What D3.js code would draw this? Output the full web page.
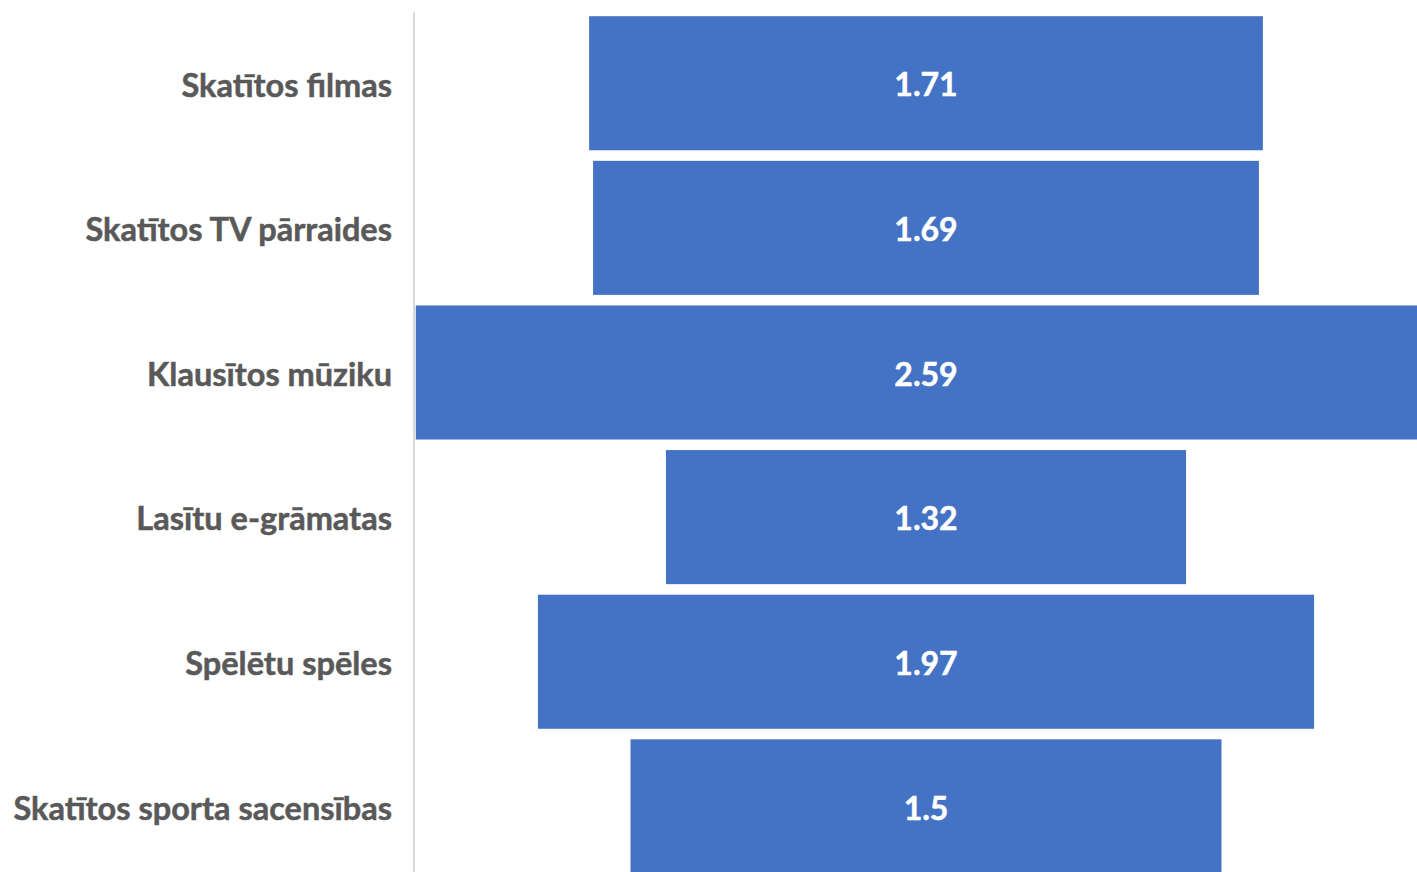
<!DOCTYPE html>
<html>
<head>
<meta charset="utf-8">
<script src="https://cdn.jsdelivr.net/npm/d3@7"></script>
<style>
  body { margin: 0; background: #fff; }
  svg { display: block; }
</style>
</head>
<body>
<div id="container"></div>
<script>
/* DATA */
const categories = [
  "Skatītos filmas",
  "Skatītos TV pārraides",
  "Klausītos mūziku",
  "Lasītu e-grāmatas",
  "Spēlētu spēles",
  "Skatītos sporta sacensības"
];
const values = [1.71, 1.69, 2.59, 1.32, 1.97, 1.5];

/* CONSTANTS */
const width = 1417,
  height = 872,
  axisX = 414,
  centerX = 926,
  pxPerUnit = 394;

const data = categories.map((c, i) => ({ cat: c, val: values[i] }));

/* SCALES */
const xScale = d3.scaleLinear()
  .domain([-1, 1])
  .range([centerX - pxPerUnit, centerX + pxPerUnit]);

const yScale = d3.scaleBand()
  .domain(categories)
  .range([11, 11 + 6 * 144.6])
  .paddingInner(0.073)
  .paddingOuter(0.036);

const svg = d3.select("#container")
  .append("svg")
  .attr("width", width)
  .attr("height", height);

// bars, centred like a funnel
svg.selectAll("rect.bar")
  .data(data)
  .join("rect")
  .attr("class", "bar")
  .attr("x", d => Math.max(xScale(-d.val / 2), axisX + 1))
  .attr("y", d => yScale(d.cat))
  .attr("width", d => xScale(d.val / 2) - Math.max(xScale(-d.val / 2), axisX + 1))
  .attr("height", yScale.bandwidth())
  .attr("fill", "#4472C4");

// vertical axis line
svg.append("line")
  .attr("x1", axisX).attr("x2", axisX)
  .attr("y1", 12).attr("y2", height)
  .attr("stroke", "#d9d9d9")
  .attr("stroke-width", 2);

// category labels
svg.selectAll("text.cat")
  .data(data)
  .join("text")
  .attr("class", "cat")
  .attr("x", 392)
  .attr("y", d => yScale(d.cat) + yScale.bandwidth() / 2 + 2)
  .attr("dy", "0.35em")
  .attr("text-anchor", "end")
  .attr("font-family", "Lato, 'Open Sans', sans-serif")
  .attr("font-weight", "bold")
  .attr("font-size", 32.5)
  .attr("fill", "#595959")
  .attr("stroke", "#595959")
  .attr("stroke-width", 0.5)
  .text(d => d.cat);

// value labels
svg.selectAll("text.val")
  .data(data)
  .join("text")
  .attr("class", "val")
  .attr("x", centerX)
  .attr("y", d => yScale(d.cat) + yScale.bandwidth() / 2 + 2)
  .attr("dy", "0.35em")
  .attr("text-anchor", "middle")
  .attr("font-family", "Lato, 'Open Sans', sans-serif")
  .attr("font-weight", "bold")
  .attr("font-size", 32)
  .attr("fill", "#ffffff")
  .attr("stroke", "#ffffff")
  .attr("stroke-width", 0.5)
  .text(d => d.val);
</script>
</body>
</html>
